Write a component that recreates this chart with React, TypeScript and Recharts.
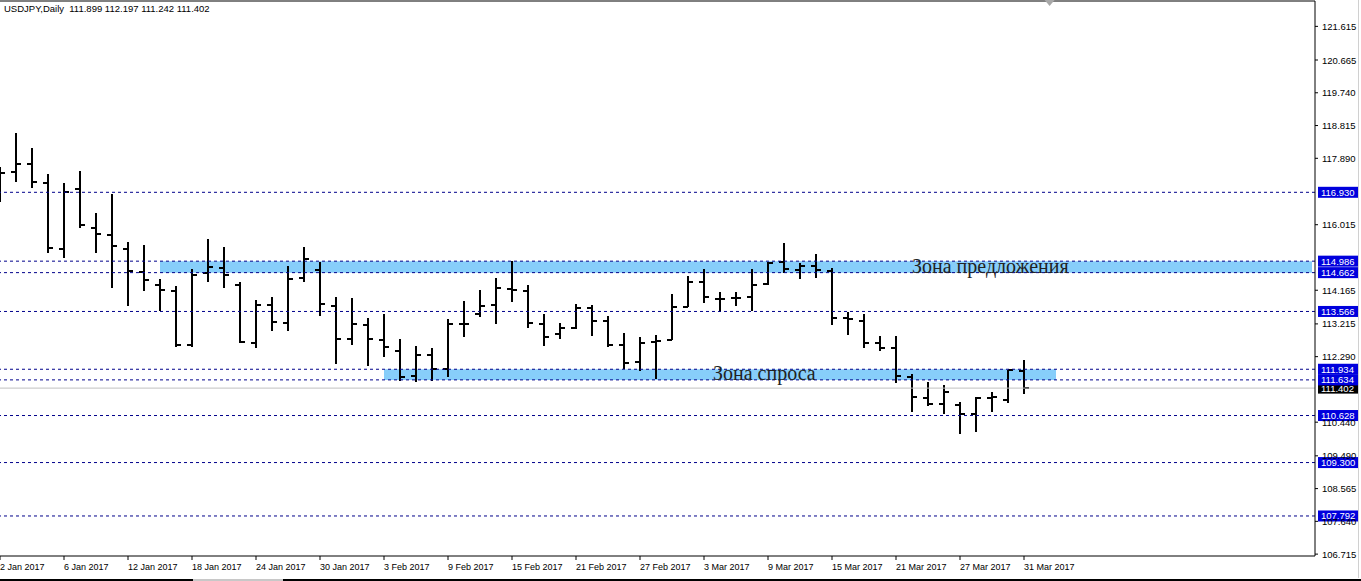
import React from 'react';
import {
  ComposedChart,
  Bar,
  XAxis,
  YAxis,
  ReferenceLine,
  ReferenceArea,
  ReferenceDot,
} from 'recharts';

// ---- data ----
const dates = [
  '2 Jan 2017', '3 Jan 2017', '4 Jan 2017', '5 Jan 2017', '6 Jan 2017',
  '9 Jan 2017', '10 Jan 2017', '11 Jan 2017', '12 Jan 2017', '13 Jan 2017',
  '16 Jan 2017', '17 Jan 2017', '18 Jan 2017', '19 Jan 2017', '20 Jan 2017',
  '23 Jan 2017', '24 Jan 2017', '25 Jan 2017', '26 Jan 2017', '27 Jan 2017',
  '30 Jan 2017', '31 Jan 2017',
  '1 Feb 2017', '2 Feb 2017', '3 Feb 2017',
  '6 Feb 2017', '7 Feb 2017', '8 Feb 2017', '9 Feb 2017', '10 Feb 2017',
  '13 Feb 2017', '14 Feb 2017', '15 Feb 2017', '16 Feb 2017', '17 Feb 2017',
  '20 Feb 2017', '21 Feb 2017', '22 Feb 2017', '23 Feb 2017', '24 Feb 2017',
  '27 Feb 2017', '28 Feb 2017',
  '1 Mar 2017', '2 Mar 2017', '3 Mar 2017',
  '6 Mar 2017', '7 Mar 2017', '8 Mar 2017', '9 Mar 2017', '10 Mar 2017',
  '13 Mar 2017', '14 Mar 2017', '15 Mar 2017', '16 Mar 2017', '17 Mar 2017',
  '20 Mar 2017', '21 Mar 2017', '22 Mar 2017', '23 Mar 2017', '24 Mar 2017',
  '27 Mar 2017', '28 Mar 2017', '29 Mar 2017', '30 Mar 2017', '31 Mar 2017',
];

const opens = [
  116.95, 117.513, 117.729, 117.202, 115.339, 117.014, 115.931, 115.734, 115.339, 114.689,
  114.322, 114.153, 112.619, 114.642, 114.802, 114.322, 112.685, 113.748, 113.25, 114.52,
  114.736, 113.729, 112.798, 113.193, 112.769, 112.449, 111.753, 112.336, 111.941, 113.2,
  113.494, 113.748, 114.2, 114.153, 113.212, 112.92, 113.089, 113.654, 113.306, 112.619,
  112.148, 112.713, 112.76, 113.701, 114.407, 113.908, 113.936, 113.983, 114.341, 114.953,
  114.736, 114.859, 114.717, 113.372, 113.296, 112.666, 112.544, 111.706, 111.132, 110.944,
  110.925, 110.68, 111.132, 111.057, 111.899,
];
const highs = [
  117.654, 118.595, 118.171, 117.437, 117.183, 117.531, 116.336, 116.882, 115.517, 115.442,
  114.482, 114.285, 114.764, 115.611, 115.376, 114.407, 113.889, 113.983, 114.859, 115.376,
  114.972, 113.965, 113.936, 113.372, 113.485, 112.779, 112.591, 112.525, 113.343, 113.861,
  114.172, 114.501, 114.99, 114.313, 113.485, 113.231, 113.767, 113.748, 113.447, 112.948,
  112.835, 112.901, 114.049, 114.576, 114.755, 114.125, 114.125, 114.755, 114.953, 115.508,
  114.925, 115.179, 114.783, 113.56, 113.485, 112.882, 112.873, 111.791, 111.584, 111.489,
  111.019, 111.16, 111.301, 111.913, 112.197,
];
const lows = [
  116.647, 117.211, 117.042, 115.207, 115.066, 115.931, 115.207, 114.237, 113.729, 114.153,
  113.588, 112.572, 112.553, 114.388, 114.219, 112.666, 112.525, 113.024, 113.024, 114.388,
  113.447, 112.073, 112.619, 112.035, 112.289, 111.602, 111.584, 111.602, 111.725, 112.854,
  113.419, 113.212, 113.842, 113.089, 112.6, 112.779, 113.071, 112.882, 112.572, 111.932,
  111.894, 111.659, 112.76, 113.701, 113.795, 113.541, 113.729, 113.579, 114.313, 114.661,
  114.482, 114.501, 113.184, 112.901, 112.544, 112.45, 111.537, 110.718, 110.897, 110.661,
  110.097, 110.172, 110.718, 110.972, 111.242,
];
const closes = [
  117.484, 117.729, 117.221, 115.357, 116.948, 116.007, 115.753, 115.423, 114.717, 114.463,
  114.181, 112.619, 114.605, 114.83, 114.605, 112.704, 113.748, 113.278, 114.482, 115.056,
  113.776, 112.798, 113.212, 112.798, 112.572, 111.715, 112.336, 111.941, 113.212, 113.22,
  113.72, 114.237, 114.18, 113.231, 112.835, 113.089, 113.654, 113.306, 112.619, 112.12,
  112.666, 112.732, 113.701, 114.407, 113.983, 113.92, 113.955, 114.313, 114.934, 114.755,
  114.859, 114.736, 113.372, 113.353, 112.666, 112.544, 111.753, 111.16, 110.944, 111.301,
  110.661, 111.132, 111.14, 111.913, 111.402,
];

const xTickIndexes = [0, 4, 8, 12, 16, 20, 24, 28, 32, 36, 40, 44, 48, 52, 56, 60, 64];
const yTicks = [
  121.615, 120.665, 119.74, 118.815, 117.89, 116.015, 114.165, 113.215, 112.29,
  110.44, 109.49, 108.565, 107.64, 106.715,
];
const levelPrices = [116.93, 114.986, 114.662, 113.566, 111.934, 111.634, 110.628, 109.3, 107.792];
const bidPrice = 111.402;
// [fromIndex, toIndex, low, high]
const supplyZone = [10, 82, 114.662, 114.986];
const demandZone = [24, 66, 111.634, 111.934];
// [xIndex, price, text]
const supplyLabel = [57, 114.662, 'Зона предложения'];
const demandLabel = [44.56, 111.645, 'Зона спроса'];
const titleText = 'USDJPY,Daily  111.899 112.197 111.242 111.402';

const Y_MIN = 106.662;
const Y_MAX = 122.331;
const X_MAX = 82.1875;

const data = dates.map((d, i) => ({
  i,
  date: d,
  open: opens[i],
  high: highs[i],
  low: lows[i],
  close: closes[i],
  range: [lows[i], highs[i]],
}));

const AXIS_FONT = '"Liberation Sans", Arial, sans-serif';

const OhlcShape = (props: any) => {
  const { x, y, width, height, payload } = props;
  if (!payload) return null;
  const top = height < 0 ? y + height : y;
  const h = Math.abs(height);
  const cx = Math.round(x + width / 2);
  const span = payload.high - payload.low || 1;
  const yo = top + ((payload.high - payload.open) / span) * h;
  const yc = top + ((payload.high - payload.close) / span) * h;
  return (
    <g stroke="#000" strokeWidth={2} shapeRendering="crispEdges">
      <line x1={cx} x2={cx} y1={top} y2={top + h} />
      <line x1={cx - 5} x2={cx} y1={yo} y2={yo} />
      <line x1={cx} x2={cx + 5} y1={yc} y2={yc} />
    </g>
  );
};

const XTick = (props: any) => {
  const { x, y, payload } = props;
  return (
    <text x={x} y={y} dy={8} fontSize={9} fontFamily={AXIS_FONT} fill="#000" textAnchor="start">
      {dates[payload.value]}
    </text>
  );
};

const YTick = (props: any) => {
  const { x, y, payload } = props;
  return (
    <text x={x} y={y} dy={3.5} fontSize={9.5} fontFamily={AXIS_FONT} fill="#000" textAnchor="start">
      {Number(payload.value).toFixed(3)}
    </text>
  );
};

const makePriceLabel = (price: number, bg: string) => (props: any) => {
  const vb = props.viewBox || {};
  const bx = (vb.x ?? 0) + (vb.width ?? 0) + 3;
  const by = vb.y ?? 0;
  return (
    <g>
      <rect x={bx} y={by - 5.5} width={40} height={11} fill={bg} />
      <text x={bx + 3} y={by} dy={3.5} fontSize={9.5} fontFamily={AXIS_FONT} fill="#fff" textAnchor="start">
        {price.toFixed(3)}
      </text>
    </g>
  );
};

const makeZoneText = (text: string) => (props: any) => (
  <text
    x={props.cx}
    y={props.cy}
    fontSize={20}
    fontFamily='"Liberation Serif", "Times New Roman", serif'
    fill="#222"
    textAnchor="start"
  >
    {text}
  </text>
);

const ShiftMarker = (props: any) => (
  <polygon
    points={`${props.cx - 5},${props.cy - 1} ${props.cx + 5},${props.cy - 1} ${props.cx},${props.cy + 5}`}
    fill="#a8a8a8"
  />
);

export default function App() {
  return (
    <div style={{ position: 'absolute', left: 0, top: 0, width: 1361, height: 581, background: '#fff', overflow: 'hidden' }}>
      <ComposedChart
        width={1361}
        height={581}
        data={data}
        margin={{ top: 1, right: 0, bottom: 1, left: 0 }}
      >
        <XAxis
          dataKey="i"
          type="number"
          domain={[0, X_MAX]}
          allowDataOverflow
          ticks={xTickIndexes}
          interval={0}
          height={24}
          axisLine={{ stroke: '#000' }}
          tickLine={{ stroke: '#000' }}
          tickSize={4}
          tick={<XTick />}
        />
        <YAxis
          orientation="right"
          type="number"
          domain={[Y_MIN, Y_MAX]}
          allowDataOverflow
          ticks={yTicks}
          interval={0}
          width={46}
          axisLine={{ stroke: '#000' }}
          tickLine={{ stroke: '#000' }}
          tickSize={3}
          tickMargin={4}
          tick={<YTick />}
        />
        <ReferenceArea
          x1={supplyZone[0]}
          x2={supplyZone[1]}
          y1={supplyZone[2]}
          y2={supplyZone[3]}
          fill="#87CEFA"
          fillOpacity={1}
          stroke="none"
        />
        <ReferenceArea
          x1={demandZone[0]}
          x2={demandZone[1]}
          y1={demandZone[2]}
          y2={demandZone[3]}
          fill="#87CEFA"
          fillOpacity={1}
          stroke="none"
        />
        <ReferenceLine y={Y_MAX} stroke="#000" strokeWidth={1} />
        <ReferenceLine
          y={bidPrice}
          stroke="#c0c0c0"
          strokeWidth={1}
          label={makePriceLabel(bidPrice, '#000')}
        />
        {levelPrices.map((p) => (
          <ReferenceLine
            key={p}
            y={p}
            stroke="#00008B"
            strokeWidth={1}
            strokeDasharray="3 3"
            label={makePriceLabel(p, '#0000DD')}
          />
        ))}
        <ReferenceDot
          x={supplyLabel[0] as number}
          y={supplyLabel[1] as number}
          r={0}
          shape={makeZoneText(supplyLabel[2] as string)}
        />
        <ReferenceDot
          x={demandLabel[0] as number}
          y={demandLabel[1] as number}
          r={0}
          shape={makeZoneText(demandLabel[2] as string)}
        />
        <ReferenceDot x={65.6} y={Y_MAX} r={0} shape={<ShiftMarker />} />
        <Bar dataKey="range" barSize={10} shape={<OhlcShape />} isAnimationActive={false} />
      </ComposedChart>
      <div
        style={{
          position: 'absolute',
          left: 4,
          top: 3,
          fontFamily: AXIS_FONT,
          fontSize: 9.5,
          color: '#000',
          whiteSpace: 'pre',
          lineHeight: '12px',
        }}
      >
        {titleText}
      </div>
      <div style={{ position: 'absolute', left: 0, top: 579, width: 193, height: 2, background: '#000' }} />
      <div style={{ position: 'absolute', left: 193, top: 579, width: 90, height: 2, background: '#c8c8c8' }} />
      <div style={{ position: 'absolute', left: 283, top: 579, width: 1078, height: 2, background: '#000' }} />
      <div style={{ position: 'absolute', left: 1358, top: 0, width: 1, height: 578, background: '#d0d0d0' }} />
    </div>
  );
}
